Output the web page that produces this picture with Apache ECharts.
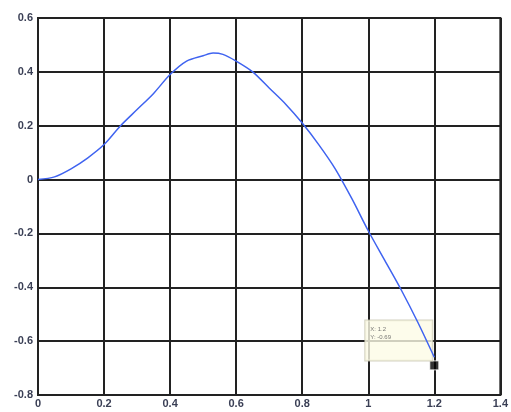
<!DOCTYPE html>
<html>
<head>
<meta charset="utf-8">
<script src="https://cdn.jsdelivr.net/npm/echarts@6/dist/echarts.min.js"></script>
<style>
  html, body { margin: 0; padding: 0; background: #fff; }
  #chart { width: 511px; height: 412px; }
</style>
</head>
<body>
<div id="chart"></div>
<script>
// curve samples
const xValues = [0, 0.05, 0.1, 0.15, 0.2, 0.25, 0.3, 0.35, 0.4, 0.45, 0.5, 0.53, 0.56, 0.6, 0.65, 0.7, 0.75, 0.8, 0.85, 0.9, 0.95, 1.0, 1.05, 1.1, 1.15, 1.2];
const yValues = [0, 0.01, 0.04, 0.08, 0.13, 0.2, 0.26, 0.32, 0.39, 0.44, 0.46, 0.47, 0.465, 0.44, 0.4, 0.34, 0.28, 0.21, 0.13, 0.04, -0.07, -0.19, -0.3, -0.41, -0.53, -0.66];
const tipPoint = [1.2, -0.69];
const tipText = 'X: 1.2\nY: -0.69';

const chart = echarts.init(document.getElementById('chart'));

const axisText = { color: '#3a3f55', fontSize: 11, fontWeight: 'bold', fontFamily: 'Liberation Sans' };
const gridLine = { show: true, lineStyle: { color: '#222', width: 2 } };

chart.setOption({
  animation: false,
  grid: { left: 38, right: 8, top: 18, bottom: 17, show: true, borderColor: '#222', borderWidth: 2 },
  xAxis: {
    type: 'value', min: 0, max: 1.4, interval: 0.2,
    axisLine: { show: false }, axisTick: { show: false },
    splitLine: gridLine,
    axisLabel: Object.assign({ margin: 3, formatter: v => String(+v.toFixed(1)) }, axisText)
  },
  yAxis: {
    type: 'value', min: -0.8, max: 0.6, interval: 0.2,
    axisLine: { show: false }, axisTick: { show: false },
    splitLine: gridLine,
    axisLabel: Object.assign({ margin: 5, formatter: v => String(+v.toFixed(1)) }, axisText)
  },
  series: [
    {
      type: 'line',
      data: xValues.map((x, i) => [x, yValues[i]]),
      showSymbol: false,
      smooth: 0.3,
      lineStyle: { color: '#3f63f0', width: 1.5 }
    },
    {
      type: 'scatter',
      data: [tipPoint],
      symbol: 'rect',
      symbolSize: 9,
      itemStyle: { color: '#000', borderColor: '#fff', borderWidth: 1 },
      label: {
        show: true,
        position: [-64, -40],
        formatter: tipText,
        width: 57,
        height: 30,
        padding: [5, 5],
        fontSize: 6,
        lineHeight: 8,
        color: '#555',
        backgroundColor: '#fdfbe6',
        borderColor: '#c8c6b0',
        borderWidth: 1
      }
    }
  ]
});
</script>
</body>
</html>
